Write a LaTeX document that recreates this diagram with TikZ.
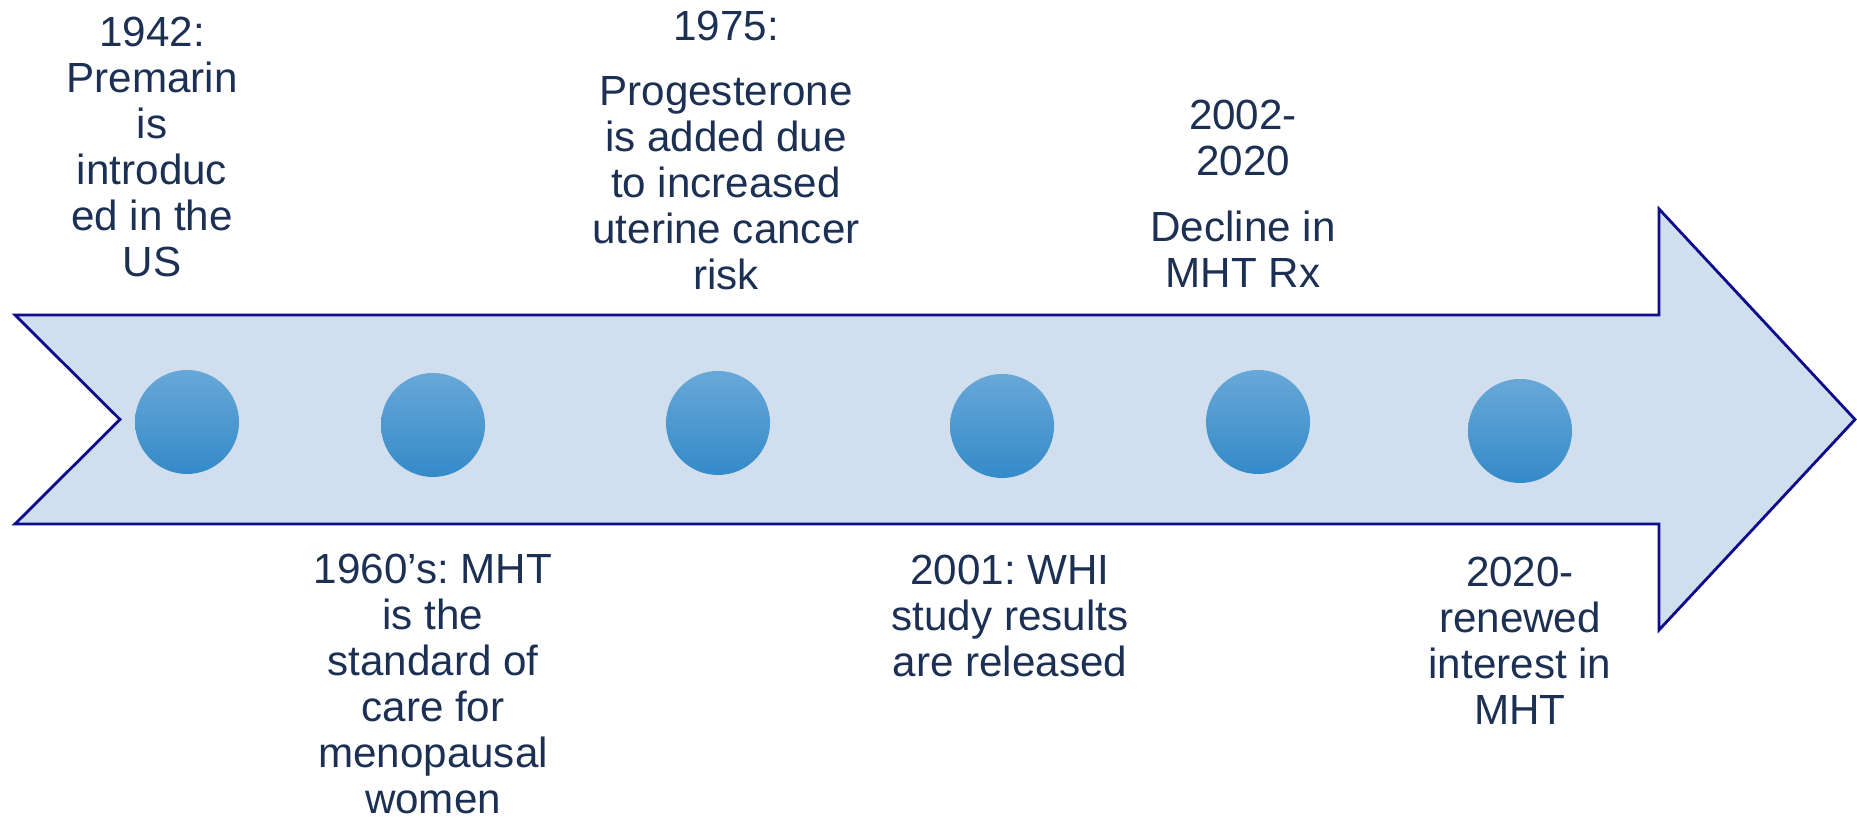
\documentclass[tikz,border=0pt]{standalone}
\usepackage{fontspec}
\setmainfont{Liberation Sans}
\frenchspacing

\definecolor{flecha}{RGB}{208,222,238}
\definecolor{borde}{RGB}{12,12,140}
\definecolor{tinta}{RGB}{28,48,84}
\definecolor{puntoclaro}{RGB}{104,168,216}
\definecolor{puntooscuro}{RGB}{52,138,200}

\begin{document}
\begin{tikzpicture}[
    punto/.style={circle, minimum size=1.04cm, inner sep=0pt, draw=none, top color=puntoclaro, bottom color=puntooscuro},
    evento/.style={align=center, text=tinta, font=\fontsize{12}{13.1}\selectfont, inner sep=0pt, anchor=base}
]
    \useasboundingbox (0,0) rectangle (18.57,8.18);

    % Flecha
    \draw[borde, line width=0.8pt, fill=flecha, line join=miter]
        (0.15,5.03) -- (16.59,5.03) -- (16.59,6.09) -- (18.55,3.985)
        -- (16.59,1.88) -- (16.59,2.94) -- (0.15,2.94) -- (1.20,3.985) -- cycle;

    % Puntos
    \node[punto] (p1942) at (1.87,3.96) {};
    \node[punto] (p1960) at (4.33,3.93) {};
    \node[punto] (p1975) at (7.18,3.95) {};
    \node[punto] (p2001) at (10.02,3.92) {};
    \node[punto] (p2002) at (12.58,3.96) {};
    \node[punto] (p2020) at (15.20,3.87) {};

    % Textos arriba (anclados en la ultima linea)
    \node[evento] (t1942) at (1.52,5.41) {1942:\\Premarin\\is\\introduc\\ed in the\\US};
    \node[evento] (t1975) at (7.26,5.28) {1975:\\[0.19cm]Progesterone\\is added due\\to increased\\uterine cancer\\risk};
    \node[evento] (t2002) at (12.43,5.30) {2002-\\2020\\[0.2cm]Decline in\\MHT Rx};

    % Textos abajo
    \node[evento] (t1960) at (4.33,0.04) {1960’s: MHT\\is the\\standard of\\care for\\menopausal\\women};
    \node[evento] (t2001) at (10.10,1.41) {2001: WHI\\study results\\are released};
    \node[evento] (t2020) at (15.20,0.93) {2020-\\renewed\\interest in\\MHT};
\end{tikzpicture}
\end{document}
